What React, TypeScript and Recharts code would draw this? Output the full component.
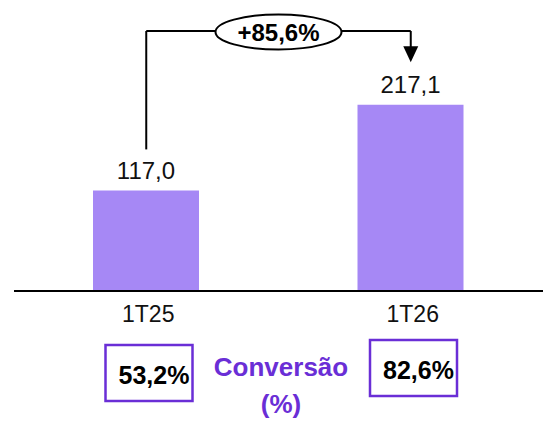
import React from 'react';
import { BarChart, Bar, XAxis, YAxis, LabelList, ReferenceLine, ReferenceDot } from 'recharts';

const categories = ['1T25', '1T26'];
const receita = [117.0, 217.1];
const conversao = [53.2, 82.6];
const crescimento = '+85,6%';

// bracket levels, in the same units as receita
const bracketTop = 303;
const bracketLeftStart = 165;
const arrowTip = 266.5;

const data = categories.map((c, i) => ({ name: c, value: receita[i], conv: conversao[i] }));

const PURPLE = '#6a2ed6';
const BAR = '#a688f5';
const FONT = 'Arial, "Liberation Sans", Helvetica, sans-serif';

const fmt = (v: number) => v.toFixed(1).replace('.', ',');

function ValueLabel(props: any) {
  const { x, y, width, value } = props;
  return (
    <text x={x + width / 2} y={y - 20} textAnchor="middle" dominantBaseline="central"
      fontSize={24} fontFamily={FONT} fill="#111">
      {fmt(value)}
    </text>
  );
}

const boxShift = [0, -5];

function ConvBox(props: any) {
  const { x, y, width, height, value, index } = props;
  const cx = x + width / 2 + 3;
  const top = y + height + 54 + (boxShift[index] || 0);
  return (
    <g>
      <rect x={cx - 43.5} y={top} width={87} height={56} fill="#fff" stroke={PURPLE} strokeWidth={2.5} />
      <text x={cx + 5} y={top + 30} textAnchor="middle" dominantBaseline="central"
        fontSize={25} fontWeight="bold" fontFamily={FONT} fill="#000">
        {fmt(value)}%
      </text>
    </g>
  );
}

function Tick(props: any) {
  const { x, y, payload } = props;
  return (
    <text x={x + 2} y={y + 23} textAnchor="middle" dominantBaseline="central"
      fontSize={23} fontFamily={FONT} fill="#111">
      {payload.value}
    </text>
  );
}

function GrowthLabel(props: any) {
  const { viewBox } = props;
  const cx = viewBox.x + viewBox.width / 2;
  const cy = viewBox.y + viewBox.height / 2 + 1;
  return (
    <g>
      <ellipse cx={cx} cy={cy} rx={63} ry={17.5} fill="#fff" stroke="#000" strokeWidth={2} />
      <text x={cx} y={cy} textAnchor="middle" dominantBaseline="central"
        fontSize={24} fontWeight="bold" fontFamily={FONT} fill="#000">
        {crescimento}
      </text>
    </g>
  );
}

function ArrowHead(props: any) {
  const { cx, cy } = props;
  return <path d={`M${cx - 7.5},${cy - 16} L${cx + 7.5},${cy - 16} L${cx},${cy} Z`} fill="#000" />;
}

export default function App() {
  return (
    <div style={{ position: 'absolute', left: 0, top: 0, width: 551, height: 426, background: '#fff', fontFamily: FONT }}>
      <BarChart width={551} height={426} data={data} margin={{ top: 31, right: 8, left: 14, bottom: 105 }}>
        <XAxis dataKey="name" axisLine={{ stroke: '#000', strokeWidth: 2 }} tickLine={false}
          tickSize={0} tickMargin={0} height={30} tick={<Tick />} interval={0} />
        <YAxis hide domain={[0, bracketTop]} />
        <Bar dataKey="value" fill={BAR} barSize={106} isAnimationActive={false}>
          <LabelList dataKey="value" content={<ValueLabel />} />
          <LabelList dataKey="conv" content={<ConvBox />} />
        </Bar>
        <ReferenceLine ifOverflow="visible" stroke="#000" strokeWidth={2}
          segment={[{ x: '1T25', y: bracketLeftStart }, { x: '1T25', y: bracketTop }]} />
        <ReferenceLine ifOverflow="visible" stroke="#000" strokeWidth={2}
          segment={[{ x: '1T26', y: bracketTop }, { x: '1T26', y: arrowTip + 5 }]} />
        <ReferenceLine ifOverflow="visible" stroke="#000" strokeWidth={2}
          segment={[{ x: '1T25', y: bracketTop }, { x: '1T26', y: bracketTop }]}
          label={<GrowthLabel />} />
        <ReferenceDot x="1T26" y={arrowTip} ifOverflow="visible" shape={<ArrowHead />} />
      </BarChart>
      <div style={{ position: 'absolute', left: 181, top: 349, width: 200, textAlign: 'center',
        color: PURPLE, fontWeight: 'bold', fontSize: 26, lineHeight: '37px' }}>
        Conversão<br />(%)
      </div>
    </div>
  );
}
